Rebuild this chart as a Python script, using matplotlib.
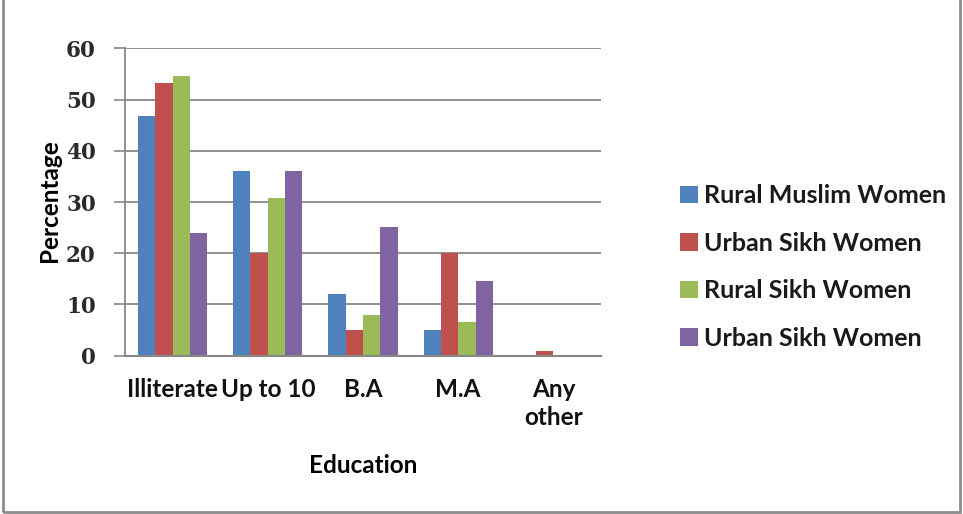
import numpy as np
import matplotlib
matplotlib.use("Agg")
import matplotlib.pyplot as plt
from matplotlib.patches import Rectangle

categories = ["Illiterate", "Up to 10", "B.A", "M.A", "Any\nother"]
series_names = ["Rural Muslim Women", "Urban Sikh Women", "Rural Sikh Women", "Urban Sikh Women"]
rural_muslim = [46.7, 36.0, 12.0, 5.0, 0.0]
urban_sikh_a = [53.3, 20.0, 5.0, 20.0, 1.0]
rural_sikh = [54.6, 30.7, 7.9, 6.6, 0.0]
urban_sikh_b = [23.9, 36.0, 25.1, 14.5, 0.0]
y_ticks = [0, 10, 20, 30, 40, 50, 60]

colors = ["#4F81BD", "#C0504D", "#9BBB59", "#8064A2"]
grid_col = "#878787"
label_font = {"family": "Lato", "size": 17.5, "weight": "bold"}
legend_font = {"family": "Lato", "size": 18, "weight": "bold"}

fig = plt.figure(figsize=(9.63, 5.14), dpi=100)
ax = fig.add_axes([0.1298, 0.308, 0.4943, 0.598])

values = [rural_muslim, urban_sikh_a, rural_sikh, urban_sikh_b]
n = len(values)
width = 1.0 / (n + 1.5)
x = np.arange(len(categories))
handles = []
for i, (vals, col) in enumerate(zip(values, colors)):
    offs = (i - (n - 1) / 2) * width
    b = ax.bar(x + offs, vals, width=width, color=col, zorder=3, linewidth=0)
    handles.append(b)

ax.set_xlim(-0.5, len(categories) - 0.5)
ax.set_ylim(0, 60)
ax.set_yticks(y_ticks)
ax.set_yticklabels([str(t) for t in y_ticks], fontfamily="DejaVu Serif",
                   fontsize=15.5, fontweight="semibold", color="#2a2a2a")
ax.set_xticks(x)
ax.set_xticklabels(categories, color="#111111", linespacing=1.25, **label_font)
ax.tick_params(axis="x", length=0, pad=16)
ax.tick_params(axis="y", length=8, width=1.2, color=grid_col, pad=13)

ax.yaxis.grid(True, color=grid_col, linewidth=1.3, zorder=0)
for s in ["top", "right", "bottom"]:
    ax.spines[s].set_visible(False)
ax.spines["left"].set_color(grid_col)
ax.spines["left"].set_linewidth(1.3)
ax.axhline(0, color=grid_col, linewidth=1.5, zorder=4, clip_on=False)

ax.set_ylabel("Percentage", **label_font)
ax.yaxis.set_label_coords(-0.135, 0.505)
ax.set_xlabel("Education", labelpad=18, **label_font)

leg = fig.legend(handles, series_names, loc="center left",
                 bbox_to_anchor=(0.683, 0.481), frameon=False,
                 prop=legend_font,
                 handlelength=0.7, handleheight=0.7, handletextpad=0.25,
                 labelspacing=0.98)
for t in leg.get_texts():
    t.set_color("#1a1a1a")

# outer chart frame
fig.patches.append(Rectangle((0.003, 0.003), 0.994, 1.2, transform=fig.transFigure,
                             fill=False, edgecolor="#8c8c8c", linewidth=2))

fig.savefig("out.png", dpi=100)
